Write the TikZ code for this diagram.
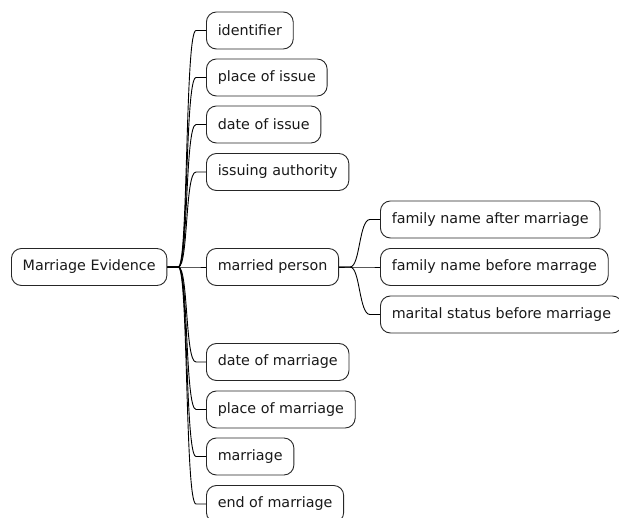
\documentclass[tikz,border=0pt]{standalone}
\usepackage{fontspec}
\setmainfont{DejaVu Sans}
\usetikzlibrary{calc}
\tikzset{
  box/.style={draw=black!85, fill=white, line width=0.9pt, rounded corners=10pt,
    anchor=west, minimum height=37pt, inner xsep=11.3pt, inner ysep=0pt,
    font=\fontsize{14.3pt}{16pt}\selectfont, text=black!90},
  conn/.style={draw=black, line width=0.9pt},
}
\newcommand{\linkit}[2]{%
  \draw[conn] (#1.east) -- ($(#1.east)+(11pt,0)$)
    .. controls ($(#1.east)+(21pt,0)$) and ($(#2.west)+(-21pt,0)$)
    .. ($(#2.west)+(-10pt,0)$) -- (#2.west);}
\begin{document}
\begin{tikzpicture}[x=1pt,y=1pt]
\useasboundingbox (0,0) rectangle (619,-518);
\node[box] (root) at (11,-267) {Marriage Evidence};
\node[box] (a) at (206,-30.5) {identifier};
\node[box] (b) at (206,-77.5) {place of issue};
\node[box] (c) at (206,-124.5) {date of issue};
\node[box] (d) at (206,-172) {issuing authority};
\node[box] (e) at (206,-267) {married person};
\node[box] (f) at (206,-362) {date of marriage};
\node[box] (g) at (206,-409.5) {place of marriage};
\node[box] (h) at (206,-456.5) {marriage};
\node[box] (i) at (206,-504) {end of marriage};
\node[box] (e1) at (380,-219.5) {family name after marriage};
\node[box] (e2) at (380,-267) {family name before marrage};
\node[box] (e3) at (380,-314.5) {marital status before marriage};
\foreach \c in {a,b,c,d,e,f,g,h,i} {\linkit{root}{\c}}
\foreach \c in {e1,e2,e3} {\linkit{e}{\c}}
\end{tikzpicture}
\end{document}
